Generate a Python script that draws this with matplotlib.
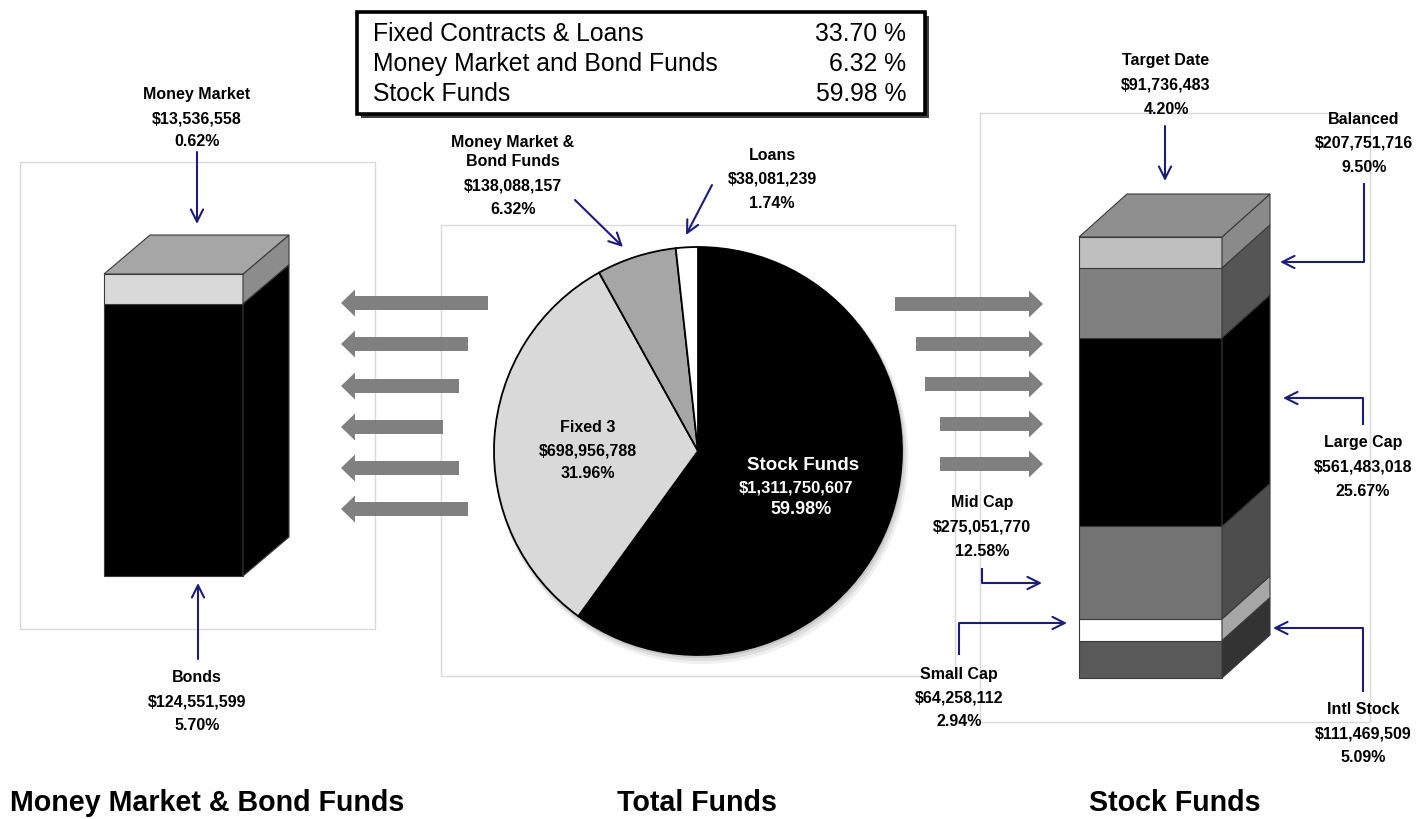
import numpy as np
import matplotlib
matplotlib.use("Agg")
import matplotlib.pyplot as plt
from matplotlib.patches import Polygon, Rectangle, FancyArrow, Circle

plt.rcParams['font.family'] = ['Liberation Sans', 'DejaVu Sans']

W, H = 1418, 819

# total funds (pie), clockwise from 12 o'clock
total_names = ["Stock Funds", "Fixed 3", "Money Market &\nBond Funds", "Loans"]
total_values = [1311750607, 698956788, 138088157, 38081239]
total_pcts = [59.98, 31.96, 6.32, 1.74]
total_colors = ["#000000", "#d9d9d9", "#a6a6a6", "#ffffff"]

# money market & bond funds column, bottom -> top
mmb_names = ["Bonds", "Money Market"]
mmb_values = [124551599, 13536558]
mmb_pcts = [5.70, 0.62]
mmb_front = ["#000000", "#d9d9d9"]
mmb_side = ["#000000", "#8c8c8c"]

# stock funds column, bottom -> top
stock_names = ["Intl Stock", "Small Cap", "Mid Cap", "Large Cap", "Balanced", "Target Date"]
stock_values = [111469509, 64258112, 275051770, 561483018, 207751716, 91736483]
stock_pcts = [5.09, 2.94, 12.58, 25.67, 9.50, 4.20]
stock_front = ["#595959", "#ffffff", "#737373", "#000000", "#808080", "#bfbfbf"]
stock_side = ["#333333", "#a6a6a6", "#4d4d4d", "#000000", "#555555", "#8a8a8a"]

summary_names = ["Fixed Contracts & Loans", "Money Market and Bond Funds", "Stock Funds"]
summary_pcts = [33.70, 6.32, 59.98]

navy = "#1c1c7c"


def fy(y):
    return H - y


fig = plt.figure(figsize=(W / 100, H / 100), dpi=100)
ax = fig.add_axes([0, 0, 1, 1])


def column(x0, width, y_bottom, total_h, values, front, side, top, dx, dy):
    scale = total_h / sum(values)
    heights = np.array(values) * scale
    bottoms = y_bottom + np.concatenate([[0], np.cumsum(heights)[:-1]])
    ax.bar([x0 + width / 2] * len(values), heights, width=width, bottom=bottoms,
           color=front, edgecolor="#3a3a3a", linewidth=0.8, zorder=3)
    x1 = x0 + width
    for b, h, c in zip(bottoms, heights, side):
        ax.add_patch(Polygon([(x1, b), (x1 + dx, b + dy), (x1 + dx, b + h + dy), (x1, b + h)],
                             closed=True, facecolor=c, edgecolor="#3a3a3a", lw=0.8, zorder=3))
    yt = bottoms[-1] + heights[-1]
    ax.add_patch(Polygon([(x0, yt), (x0 + dx, yt + dy), (x1 + dx, yt + dy), (x1, yt)],
                         closed=True, facecolor=top, edgecolor="#3a3a3a", lw=0.8, zorder=3))


def label(x, y, lines, step=24, color="black", size=11.5):
    for i, s in enumerate(lines):
        ax.text(x, fy(y + i * step), s, ha="center", va="center", fontsize=size,
                fontweight="bold", color=color, zorder=6)


def arrow(path):
    pts = [(x, fy(y)) for x, y in path]
    if len(pts) > 2:
        xs, ys = zip(*pts[:-1])
        ax.plot(xs, ys, color=navy, lw=1.5, zorder=6, solid_capstyle="butt")
    ax.annotate("", xy=pts[-1], xytext=pts[-2],
                arrowprops=dict(arrowstyle="->", color=navy, lw=1.5, mutation_scale=22,
                                shrinkA=0, shrinkB=0), zorder=6)


def fmt(name, value, pct):
    return name.split("\n") + ["${:,}".format(value), "{:.2f}%".format(pct)]


# panel frames
for x0, y0, x1, y1 in [(20, 162, 375, 629), (441, 225, 955, 676), (980, 113, 1370, 722)]:
    ax.add_patch(Rectangle((x0, fy(y1)), x1 - x0, y1 - y0, fill=False,
                           edgecolor="#d9d9d9", lw=1, zorder=1))

# columns
column(104, 139, fy(576), 302, mmb_values, mmb_front, mmb_side, "#a6a6a6", 46, 39)
column(1079, 143, fy(678), 441, stock_values, stock_front, stock_side, "#8f8f8f", 48, 43)

# pie with a soft shadow
cx, cy, r = 698, fy(451), 204
for k, a in [(6, 0.06), (4, 0.08), (2, 0.10)]:
    ax.add_patch(Circle((cx + k * 0.6, cy - k), r + k * 0.5, color="black", alpha=a, lw=0, zorder=2))
ax.pie(total_values, colors=total_colors, startangle=90, counterclock=False,
       center=(cx, cy), radius=r, wedgeprops=dict(edgecolor="black", linewidth=1.3, zorder=3))

# gray flow arrows
for tail, y in zip([488, 468, 459, 443, 459, 468], [303, 344, 386, 427, 468, 509]):
    ax.add_patch(FancyArrow(tail, fy(y), 341 - tail, 0, width=14, head_width=27, head_length=14,
                            length_includes_head=True, color="#808080", lw=0, zorder=4))
for tail, y in zip([895, 916, 925, 940, 940], [304, 344, 384, 424, 464]):
    ax.add_patch(FancyArrow(tail, fy(y), 1043 - tail, 0, width=14, head_width=27, head_length=14,
                            length_includes_head=True, color="#808080", lw=0, zorder=4))

# summary box
bx0, by0, bx1, by1 = 357, 12, 925, 114
ax.add_patch(Rectangle((bx0 + 4, fy(by1 + 4)), bx1 - bx0, by1 - by0, facecolor="#404040",
                       edgecolor="none", zorder=4))
ax.add_patch(Rectangle((bx0, fy(by1)), bx1 - bx0, by1 - by0, facecolor="white",
                       edgecolor="black", lw=2.6, zorder=5))
for i, (n, p) in enumerate(zip(summary_names, summary_pcts)):
    y = fy(34 + i * 30)
    ax.text(373, y, n, ha="left", va="center", fontsize=17.8, zorder=6)
    ax.text(906, y, "{:.2f} %".format(p), ha="right", va="center", fontsize=17.8, zorder=6)

# left column labels
label(197, 95, fmt(mmb_names[1], mmb_values[1], mmb_pcts[1]), step=23.5)
arrow([(197, 152), (197, 224)])
label(197, 678, fmt(mmb_names[0], mmb_values[0], mmb_pcts[0]), step=24)
arrow([(198, 659), (198, 583)])

# pie labels
label(588, 428, fmt(total_names[1], total_values[1], total_pcts[1]), step=23)
ax.text(803, fy(465), total_names[0], ha="center", va="center", fontsize=13.5,
        fontweight="bold", color="white", zorder=6)
ax.text(796, fy(488), "${:,}".format(total_values[0]), ha="center", va="center", fontsize=12,
        fontweight="bold", color="white", zorder=6)
ax.text(801, fy(510), "{:.2f}%".format(total_pcts[0]), ha="center", va="center", fontsize=13,
        fontweight="bold", color="white", zorder=6)
mm_lines = fmt(total_names[2], total_values[2], total_pcts[2])
label(513, 143, mm_lines[:2], step=19)
label(513, 186, mm_lines[2:], step=24)
arrow([(575, 200), (623, 247)])
label(772, 155, fmt(total_names[3], total_values[3], total_pcts[3]), step=24)
arrow([(712, 185), (686, 235)])

# stock column labels
lx = {"Target Date": (1166, 61), "Balanced": (1364, 119), "Large Cap": (1363, 443),
      "Mid Cap": (982, 503), "Small Cap": (959, 674), "Intl Stock": (1363, 710)}
for n, v, p in zip(stock_names, stock_values, stock_pcts):
    x, y = lx[n]
    label(x, y, fmt(n, v, p), step=24)
arrow([(1165, 126), (1165, 181)])
arrow([(1364, 183), (1364, 262), (1280, 262)])
arrow([(1363, 425), (1363, 398), (1283, 398)])
arrow([(982, 568), (982, 583), (1042, 583)])
arrow([(959, 655), (959, 623), (1067, 623)])
arrow([(1363, 692), (1363, 628), (1273, 628)])

# panel titles
ax.text(10, fy(803), "Money Market & Bond Funds", ha="left", va="center", fontsize=20.6, fontweight="bold")
ax.text(697, fy(803), "Total Funds", ha="center", va="center", fontsize=20.6, fontweight="bold")
ax.text(1175, fy(803), "Stock Funds", ha="center", va="center", fontsize=20.6, fontweight="bold")

ax.set_xlim(0, W)
ax.set_ylim(0, H)
ax.set_aspect("auto")
ax.axis("off")

fig.savefig("out.png", dpi=100)
